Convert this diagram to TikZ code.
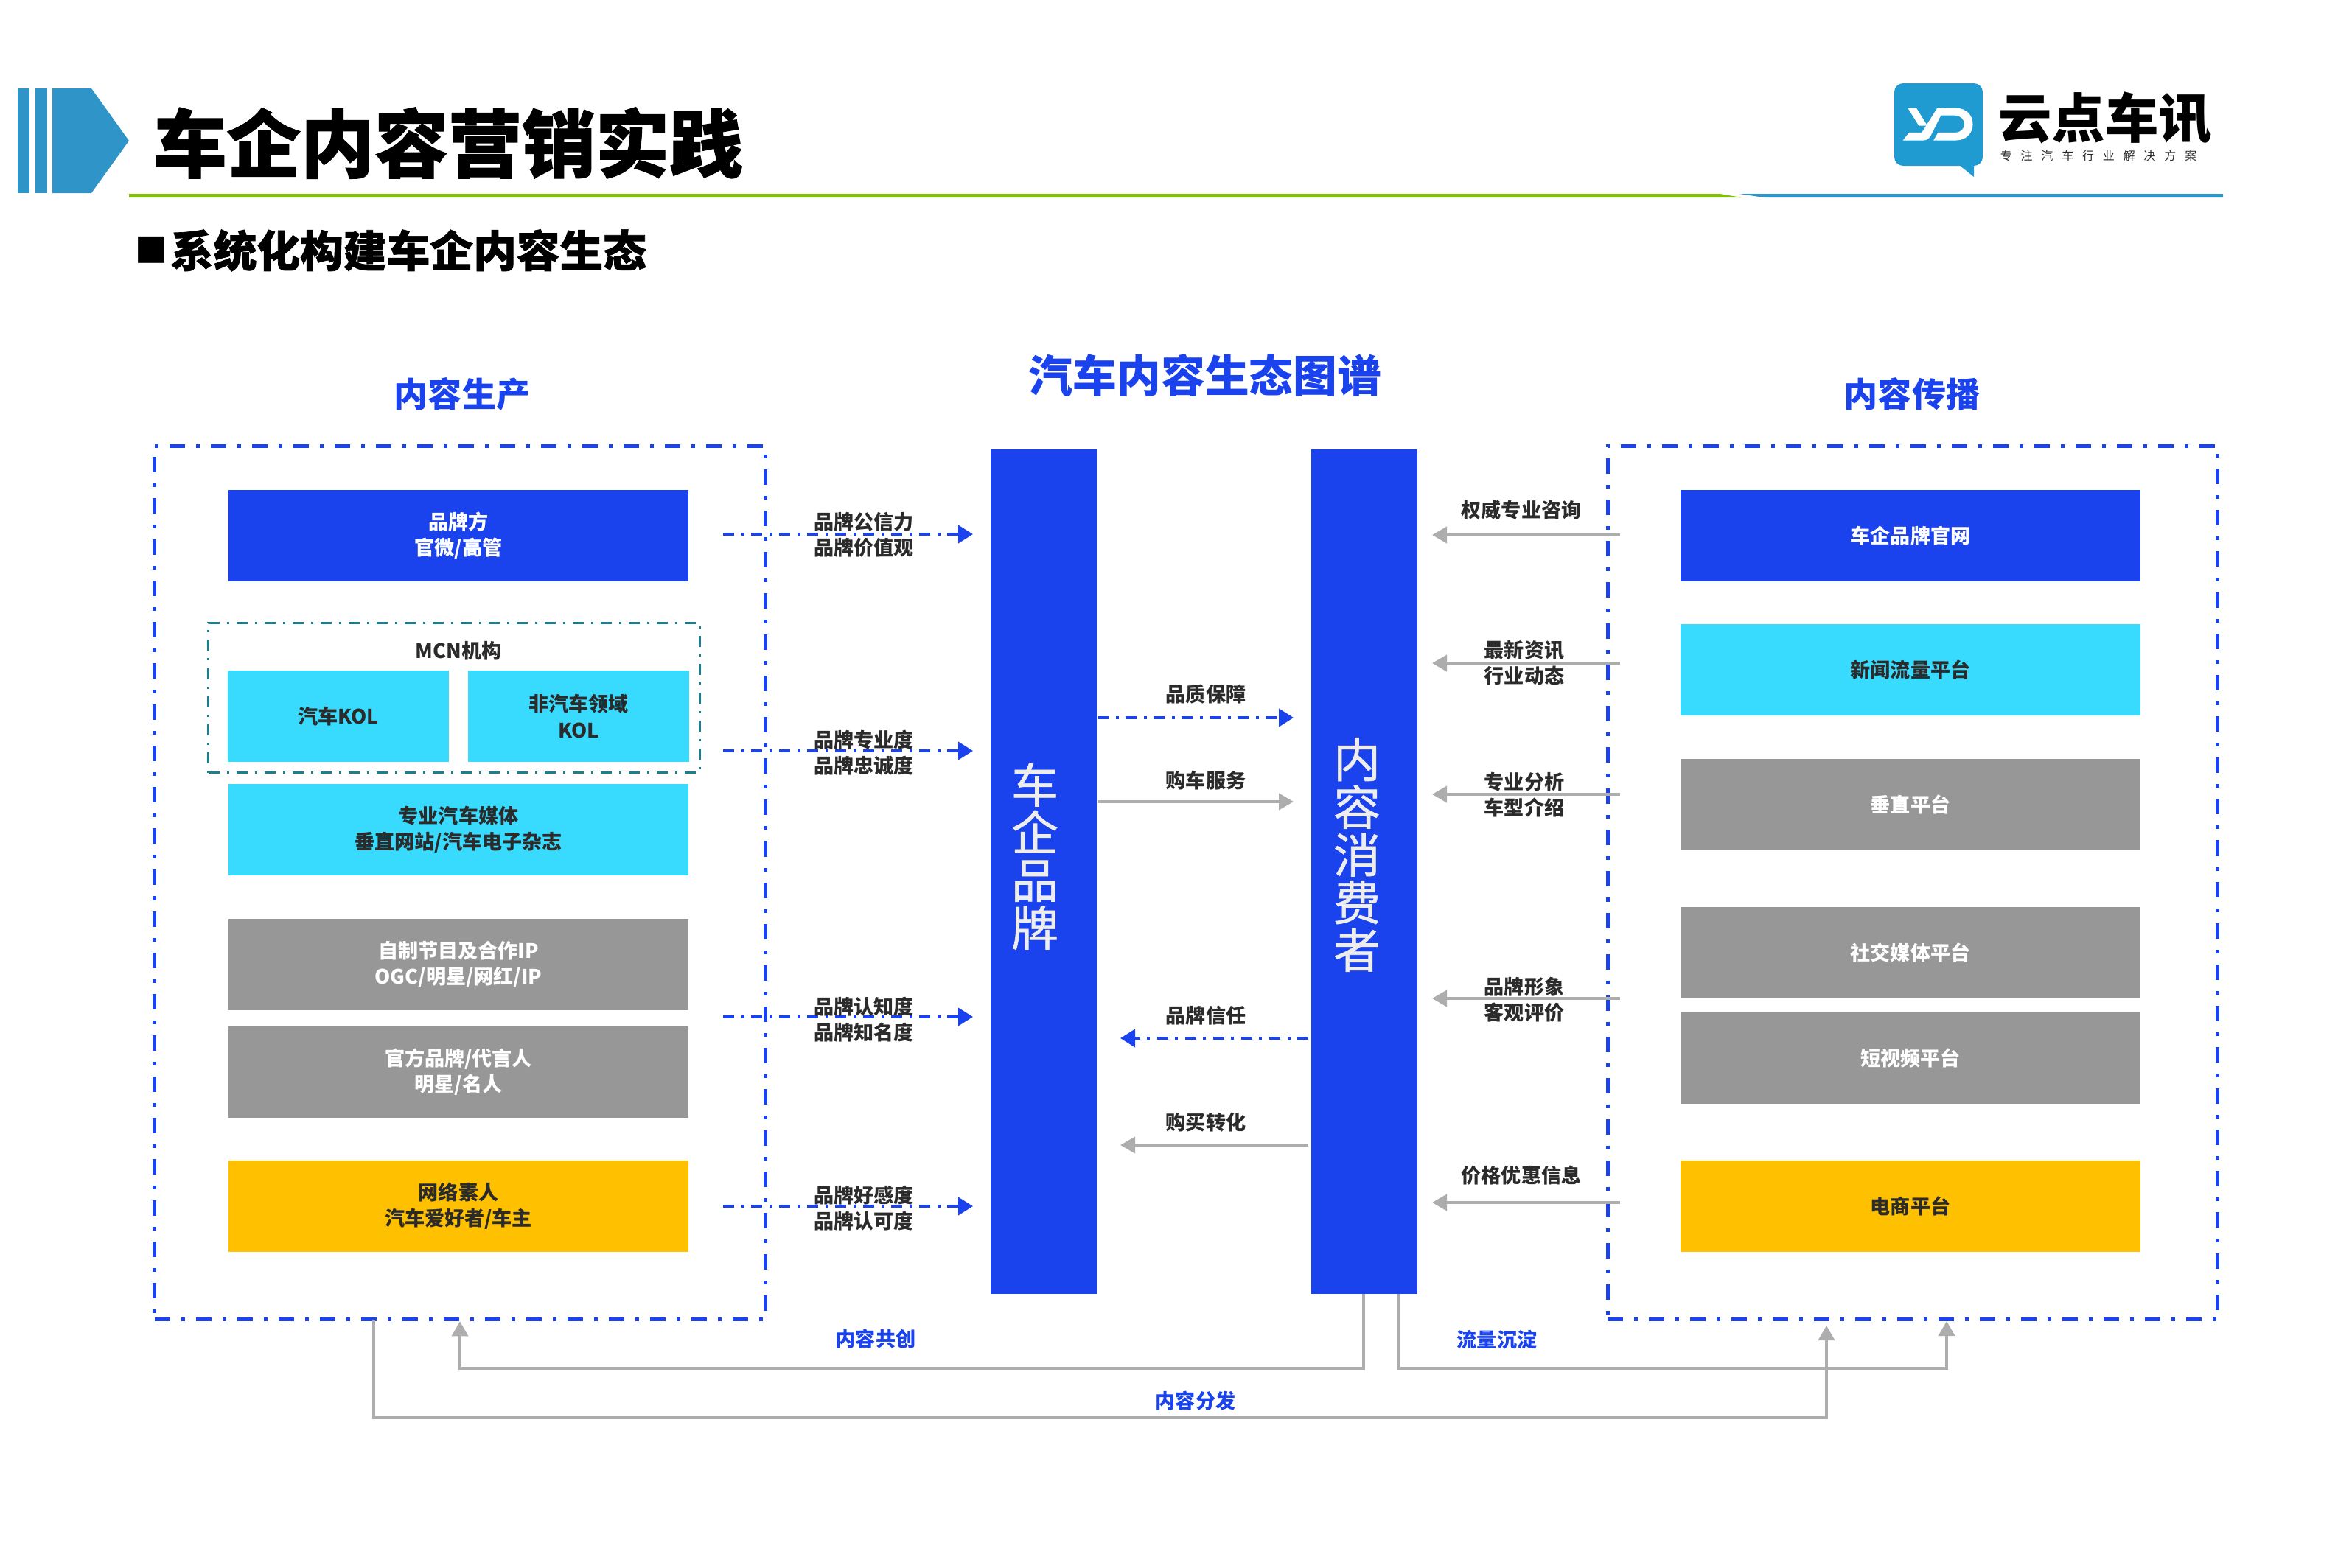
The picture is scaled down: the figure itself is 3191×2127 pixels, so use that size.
\documentclass[tikz,border=0pt]{standalone}
\usepackage{fontspec}
\setmainfont{Noto Sans CJK SC}
\newfontfamily\heavyfont[BoldFeatures={FakeBold=1.2}]{Noto Sans CJK SC}
\newfontfamily\pillarfont[FakeBold=1]{Noto Sans CJK SC}
\newfontfamily\spacedfont[LetterSpace=74]{Noto Sans CJK SC}
\usetikzlibrary{arrows.meta}
\definecolor{flowblue}{HTML}{1A43EE}
\definecolor{flowcyan}{HTML}{38DBFD}
\definecolor{flowgray}{HTML}{979797}
\definecolor{flowgold}{HTML}{FFC000}
\definecolor{linegray}{HTML}{ADADAD}
\definecolor{frameteal}{HTML}{1A8090}
\definecolor{headblue}{HTML}{2F95C9}
\definecolor{headgreen}{HTML}{83BE0F}
\definecolor{logoblue}{HTML}{1F9BD1}
\definecolor{labelgray}{HTML}{2B2B2B}
\tikzset{
    stepfont/.style={font=\bfseries\fontsize{7.7}{10}\selectfont, align=center},
    steplabel/.style={stepfont, text=labelgray, inner sep=0pt},
    sidelabel/.style={stepfont, text=flowblue, inner sep=0pt},
    blockbox/.style={stepfont, minimum width=6.24cm, minimum height=1.24cm, inner sep=0pt},
    bluebox/.style={blockbox, fill=flowblue, text=white},
    cyanbox/.style={blockbox, fill=flowcyan, text=labelgray},
    graybox/.style={blockbox, fill=flowgray, text=white},
    goldbox/.style={blockbox, fill=flowgold, text=labelgray},
    kolbox/.style={cyanbox, minimum width=2.99cm},
    pillar/.style={fill=flowblue, minimum width=1.44cm, minimum height=11.46cm, inner sep=0pt},
    pillartext/.style={font=\pillarfont\fontsize{18.2}{18.4}\selectfont, text=white!93!black, align=center, inner sep=0pt},
    title/.style={font=\bfseries\fontsize{13.1}{15}\selectfont, text=flowblue, inner sep=0pt},
    zoneframe/.style={draw=flowblue, line width=.05cm, minimum height=11.85cm, inner sep=0pt,
        dash pattern=on .21cm off .15cm on .05cm off .15cm},
    blueflow/.style={draw=flowblue, line width=.04cm, dash pattern=on .15cm off .095cm on .04cm off .095cm,
        -{Triangle[length=.2cm,width=.24cm]}},
    grayflow/.style={draw=linegray, line width=.04cm, -{Triangle[length=.2cm,width=.22cm]}}
}
\begin{document}
\begin{tikzpicture}[x=.01cm, y=-.01cm]
    \useasboundingbox (0,0) rectangle (3191,2127);

    % header
    \fill[headblue] (24,120) rectangle (40,262);
    \fill[headblue] (48,120) rectangle (64,262);
    \fill[headblue] (71,120) -- (124,120) -- (175,191) -- (124,262) -- (71,262) -- cycle;
    \fill[headgreen] (175,263) -- (2333,263) -- (2363,268) -- (175,268) -- cycle;
    \fill[headblue] (2360,263) -- (3016,263) -- (3016,268) -- (2393,268) -- cycle;
    \node[inner sep=0pt, font={\heavyfont\bfseries\fontsize{28.45}{30}\selectfont}] (pagetitle) at (608,194) {车企内容营销实践};
    \node[inner sep=0pt, font={\heavyfont\bfseries\fontsize{16.7}{18}\selectfont}] (pagesub) at (530,340) {\raisebox{.07cm}{\fontsize{12.5}{18}\selectfont ■}\hspace{.04cm}系统化构建车企内容生态};

    % logo
    \fill[logoblue, rounded corners=.12cm] (2570,113) rectangle (2690,225);
    \fill[logoblue] (2658,224) -- (2678,240) -- (2678,224) -- cycle;
    \begin{scope}[shift={(2570,130)}, x=.00333cm, y=-.00333cm]
        \fill[white] (55,50) -- (90,50) -- (135,122) -- (100,122) -- cycle;
        \fill[white] (35,182) -- (60,150) -- (112,150) -- (150,90) -- (175,50) -- (205,50) -- (150,160) .. controls (140,178) and (130,182) .. (118,182) -- cycle;
        \fill[white] (190,50) -- (250,50) .. controls (295,50) and (320,80) .. (320,116) .. controls (320,155) and (290,182) .. (250,182) -- (160,182) -- (178,150) -- (245,150) .. controls (272,150) and (285,135) .. (285,116) .. controls (285,95) and (270,80) .. (245,80) -- (175,80) -- cycle;
    \end{scope}
    \node[inner sep=0pt, font=\bfseries\fontsize{20.6}{22}\selectfont] (logoname) at (2856,160) {云点车讯};
    \node[inner sep=0pt, font={\spacedfont\fontsize{4.55}{5}\selectfont}, text=labelgray] (logotag) at (2847,211) {专注汽车行业解决方案};

    % headings
    \node[title] (prodtitle) at (627,535) {内容生产};
    \node[title, font=\bfseries\fontsize{17}{19}\selectfont] (maptitle) at (1635,509) {汽车内容生态图谱};
    \node[title] (spreadtitle) at (2594,535) {内容传播};

    % zones
    \node[zoneframe, minimum width=8.28cm] (prodframe) at (624,1198) {};
    \node[zoneframe, minimum width=8.27cm] (spreadframe) at (2595,1198) {};
    \node[draw=frameteal, line width=.03cm, minimum width=6.66cm, minimum height=2.03cm, inner sep=0pt,
        dash pattern=on .15cm off .1cm on .03cm off .1cm] (mcnframe) at (616,947) {};

    % production side
    \node[bluebox] (brandbox) at (622,727) {品牌方\\官微/高管};
    \node[steplabel] (mcnlabel) at (622,883) {MCN机构};
    \node[kolbox] (autokol) at (459,972) {汽车KOL};
    \node[kolbox] (otherkol) at (785,972) {非汽车领域\\KOL};
    \node[cyanbox] (mediabox) at (622,1126) {专业汽车媒体\\垂直网站/汽车电子杂志};
    \node[graybox] (ipbox) at (622,1309) {自制节目及合作IP\\OGC/明星/网红/IP};
    \node[graybox] (starbox) at (622,1455) {官方品牌/代言人\\明星/名人};
    \node[goldbox] (fanbox) at (622,1637) {网络素人\\汽车爱好者/车主};

    % spreading side
    \node[bluebox] (sitebox) at (2592,727) {车企品牌官网};
    \node[cyanbox] (newsbox) at (2592,909) {新闻流量平台};
    \node[graybox] (vertbox) at (2592,1092) {垂直平台};
    \node[graybox] (socialbox) at (2592,1293) {社交媒体平台};
    \node[graybox] (videobox) at (2592,1436) {短视频平台};
    \node[goldbox] (shopbox) at (2592,1637) {电商平台};

    % pillars
    \node[pillar] (brandbar) at (1416,1183) {};
    \node[pillar, minimum width=1.43cm] (userbar) at (1851,1183) {};
    \node[pillartext] (brandname) at (1404,1162) {车\\企\\品\\牌};
    \node[pillartext] (username) at (1841,1160) {内\\容\\消\\费\\者};

    % flows
    \foreach \name/\ypos in {a/725,b/1019,c/1380,d/1637}{
        \coordinate (from\name) at (981,\ypos);
        \coordinate (to\name) at (1320,\ypos);
        \draw[blueflow] (from\name) -- (to\name);
    }
    \foreach \name/\ypos in {a/726,b/900,c/1078,d/1355,e/1632}{
        \coordinate (spread\name) at (2198,\ypos);
        \coordinate (reach\name) at (1943,\ypos);
        \draw[grayflow] (spread\name) -- (reach\name);
    }
    \coordinate (qualitystart) at (1489,974);
    \coordinate (qualityend) at (1755,974);
    \coordinate (servicestart) at (1489,1088);
    \coordinate (serviceend) at (1755,1088);
    \coordinate (truststart) at (1775,1409);
    \coordinate (trustend) at (1520,1409);
    \coordinate (buystart) at (1775,1554);
    \coordinate (buyend) at (1520,1554);
    \draw[blueflow] (qualitystart) -- (qualityend);
    \draw[grayflow] (servicestart) -- (serviceend);
    \draw[blueflow] (truststart) -- (trustend);
    \draw[grayflow] (buystart) -- (buyend);

    % bottom loops
    \coordinate (cocreatestart) at (1850,1756);
    \coordinate (settlestart) at (1898,1756);
    \coordinate (settleend) at (2641,1793);
    \coordinate (sharestart) at (507,1791);
    \coordinate (shareend) at (2478,1799);
    \draw[grayflow] (cocreatestart) -- ++(0,101) -| (prodframe.south);
    \draw[grayflow] (settlestart) -- ++(0,101) -| (settleend);
    \draw[grayflow] (sharestart) -- ++(0,133) -| (shareend);

    % labels
    \node[steplabel] (valuelabel) at (1172,726) {品牌公信力\\品牌价值观};
    \node[steplabel] (loyaltylabel) at (1172,1022) {品牌专业度\\品牌忠诚度};
    \node[steplabel] (famelabel) at (1172,1384) {品牌认知度\\品牌知名度};
    \node[steplabel] (favorlabel) at (1172,1640) {品牌好感度\\品牌认可度};
    \node[steplabel] (qualitylabel) at (1636,942) {品质保障};
    \node[steplabel] (servicelabel) at (1636,1059) {购车服务};
    \node[steplabel] (trustlabel) at (1636,1378) {品牌信任};
    \node[steplabel] (buylabel) at (1636,1523) {购买转化};
    \node[steplabel] (advicelabel) at (2064,692) {权威专业咨询};
    \node[steplabel] (newslabel) at (2068,900) {最新资讯\\行业动态};
    \node[steplabel] (analysislabel) at (2068,1079) {专业分析\\车型介绍};
    \node[steplabel] (imagelabel) at (2068,1357) {品牌形象\\客观评价};
    \node[steplabel] (pricelabel) at (2064,1595) {价格优惠信息};
    \node[sidelabel] (cocreatelabel) at (1188,1817) {内容共创};
    \node[sidelabel] (settlelabel) at (2031,1818) {流量沉淀};
    \node[sidelabel] (sharelabel) at (1622,1901) {内容分发};
\end{tikzpicture}
\end{document}
